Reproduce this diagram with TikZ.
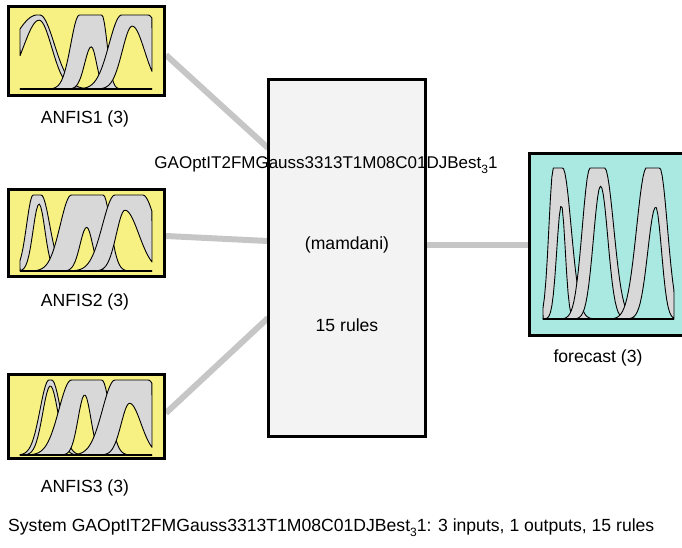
\documentclass[tikz,border=0pt]{standalone}
\usepackage{fontspec}
\setmainfont{Liberation Sans}
\usetikzlibrary{backgrounds}

\definecolor{inyellow}{RGB}{247,240,130}
\definecolor{outteal}{RGB}{170,232,226}
\definecolor{rulegrey}{RGB}{243,243,243}
\definecolor{mfgrey}{RGB}{216,216,216}
\definecolor{linkgrey}{RGB}{198,198,198}

% lowered index inside the system name
\newcommand\lowidx[1]{\raisebox{-0.32em}{\fontsize{12}{12}\selectfont #1}}

% one interval type-2 membership function: upper bound with a flat top
% [#1,#2] and side widths #3/#4, lower bound peaking at #5 with height #6
% and side widths #7/#8; drawn in a unit plotting frame
\newcommand\fouband[8]{%
  \filldraw[mfband]
    plot[domain=0:1,samples=90] (\x,{upmf(\x,#1,#2,#3,#4)})
    -- plot[domain=1:0,samples=90] (\x,{lomf(\x,#5,#6,#7,#8)}) -- cycle;
}

\tikzset{
  declare function={
    gs(\t,\m,\s)=exp(-min(((\t-\m)*(\t-\m))/(2*\s*\s),30));
    upmf(\t,\a,\b,\l,\r)=(\t<\a) ? gs(\t,\a,\l) : ((\t>\b) ? gs(\t,\b,\r) : 1);
    lomf(\t,\p,\h,\l,\r)=\h*((\t<\p) ? gs(\t,\p,\l) : gs(\t,\p,\r));
  },
  fisbox/.style={rectangle, draw=black, line width=2.8pt, inner sep=0pt},
  mfband/.style={fill=mfgrey, draw=black, line width=0.9pt, line join=round},
  axisline/.style={draw=black, line width=1.6pt},
  link/.style={draw=linkgrey, line width=6pt},
  lbl/.style={font=\fontsize{17.6}{20}\selectfont, inner sep=0pt, anchor=base},
}

\begin{document}
\begin{tikzpicture}[x=1pt, y=-1pt]
\useasboundingbox (0,0) rectangle (682,547);
\clip (0,0) rectangle (682,547);

% blocks
\node[fisbox, fill=inyellow, minimum width=156pt, minimum height=89pt] (in1) at (86.5,51) {};
\node[fisbox, fill=inyellow, minimum width=156pt, minimum height=87pt] (in2) at (86.5,233) {};
\node[fisbox, fill=inyellow, minimum width=156pt, minimum height=84pt] (in3) at (86.5,416.5) {};
\node[fisbox, fill=rulegrey, minimum width=157pt, minimum height=357pt] (rules) at (347,258) {};
\node[fisbox, fill=outteal, minimum width=157pt, minimum height=182pt] (out) at (608,244.5) {};

% connector end points
\coordinate (r1) at (268,148);
\coordinate (r2) at (268,241);
\coordinate (r3) at (268,318);
\coordinate (s1) at (166,55);
\coordinate (s2) at (166,236);
\coordinate (s3) at (166,413);
\coordinate (ro) at (426,245);
\coordinate (so) at (529,245);

\begin{pgfonlayer}{background}
  \draw[link] (s1) -- (r1);
  \draw[link] (s2) -- (r2);
  \draw[link] (s3) -- (r3);
  \draw[link] (ro) -- (so);
\end{pgfonlayer}

% ANFIS1 membership functions
\begin{scope}[shift={(20,89)}, x=132pt, y=74pt]
  \fouband{0.13}{0.15}{0.2}{0.11}{0.145}{0.93}{0.12}{0.095}
  \fouband{0.45}{0.62}{0.065}{0.04}{0.54}{0.57}{0.05}{0.04}
  \fouband{0.77}{0.97}{0.095}{0.10}{0.85}{0.85}{0.075}{0.094}
  \draw[axisline] (0,0) -- (1,0);
\end{scope}

% ANFIS2 membership functions
\begin{scope}[shift={(20,271)}, x=132pt, y=76pt]
  \fouband{0.10}{0.16}{0.05}{0.065}{0.144}{0.88}{0.045}{0.045}
  \fouband{0.39}{0.63}{0.085}{0.055}{0.505}{0.575}{0.05}{0.045}
  \fouband{0.72}{0.93}{0.095}{0.10}{0.795}{0.80}{0.065}{0.105}
  \draw[axisline] (0,0) -- (1,0);
\end{scope}

% ANFIS3 membership functions
\begin{scope}[shift={(20,455)}, x=132pt, y=75pt]
  \fouband{0.22}{0.24}{0.068}{0.067}{0.23}{0.92}{0.058}{0.058}
  \fouband{0.39}{0.62}{0.095}{0.06}{0.49}{0.80}{0.05}{0.047}
  \fouband{0.72}{0.97}{0.095}{0.10}{0.83}{0.69}{0.063}{0.087}
  \draw[axisline] (0,0) -- (1,0);
\end{scope}

% forecast membership functions
\begin{scope}[shift={(543,319)}, x=131pt, y=151pt]
  \fouband{0.08}{0.15}{0.035}{0.065}{0.14}{0.75}{0.035}{0.03}
  \fouband{0.36}{0.47}{0.06}{0.07}{0.44}{0.88}{0.055}{0.055}
  \fouband{0.79}{0.89}{0.075}{0.06}{0.86}{0.74}{0.06}{0.045}
  \draw[axisline] (0,0) -- (1,0);
\end{scope}

% texts
\node[lbl] (t1) at (85,123) {ANFIS1 (3)};
\node[lbl] (t2) at (85,306) {ANFIS2 (3)};
\node[lbl] (t3) at (85,492) {ANFIS3 (3)};
\node[lbl] (to) at (598,362) {forecast (3)};
\node[lbl, font=\fontsize{17}{20}\selectfont] (tname) at (326,168) {GAOptIT2FMGauss3313T1M08C01DJBest\lowidx{3}1};
\node[lbl] (tkind) at (347,249) {(mamdani)};
\node[lbl] (trules) at (347,331) {15 rules};
\node[lbl, anchor=base west] (tsys) at (8,531) {System GAOptIT2FMGauss3313T1M08C01DJBest\lowidx{3}1: 3 inputs, 1 outputs, 15 rules};
\end{tikzpicture}
\end{document}
